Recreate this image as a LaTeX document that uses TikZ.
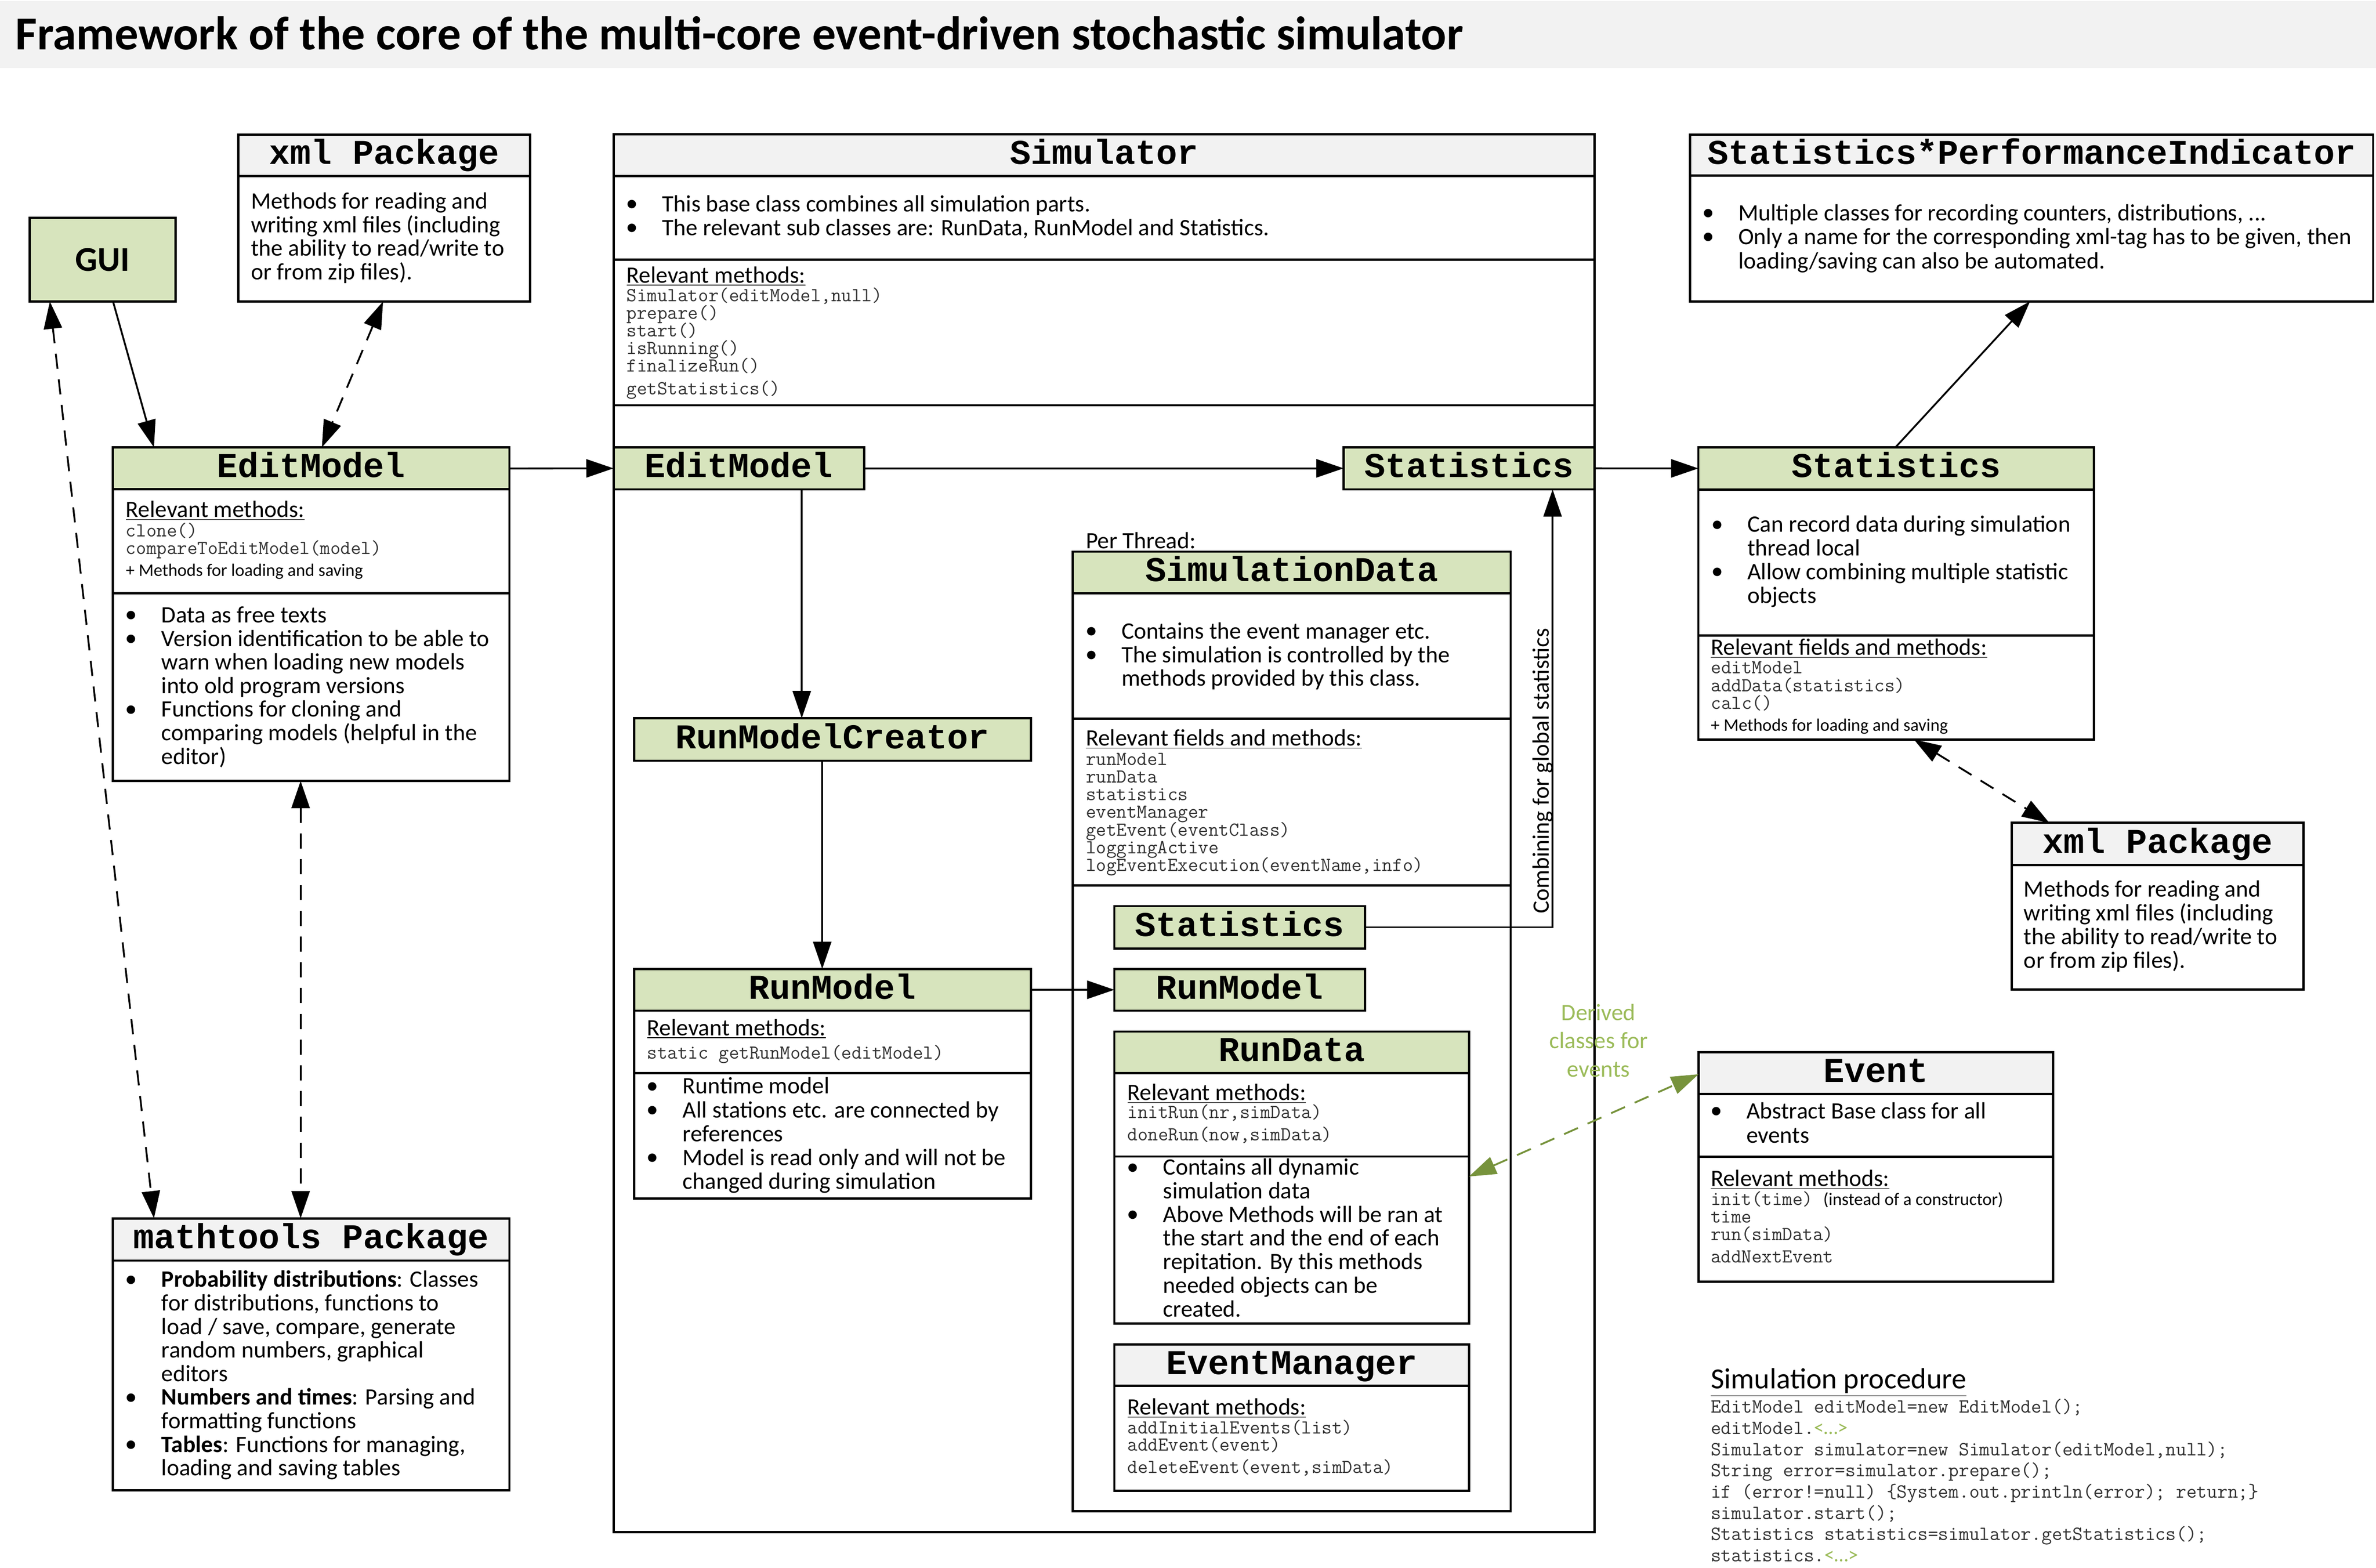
\documentclass[tikz,border=0pt]{standalone}
\usepackage{fontspec}
\setmainfont{Carlito}
\newfontfamily\mono{Liberation Mono}
\usetikzlibrary{arrows.meta,calc}
\definecolor{hgreen}{HTML}{D7E4BD}
\definecolor{hgray}{HTML}{F2F2F2}
\definecolor{tgreen}{HTML}{9BBB59}
\definecolor{agreen}{HTML}{77933C}
\definecolor{codec}{HTML}{333333}
\newcommand\bul{\raisebox{1.2pt}{$\bullet$}}
\newcommand\bi{\hbox to 23.5pt{\bul\hfil}}
\newcommand\ci{\hskip 23.5pt\relax}
\newcommand\ml[2]{\vtop{\baselineskip=#1pt\lineskiplimit=-\maxdimen\lineskip=0pt\halign{##\hfil\cr#2\crcr}}}
\newcommand\mlc[2]{\vtop{\baselineskip=#1pt\lineskiplimit=-\maxdimen\lineskip=0pt\halign{\hfil##\hfil\cr#2\crcr}}}
\newcommand\ulab[1]{\underline{#1}}
\newcommand\grn{\rmfamily\color{tgreen}}
\newcommand\ubox[7]{%
  \pgfmathsetmacro\ubW{#4-#2}\pgfmathsetmacro\ubH{#5-#3}\pgfmathsetmacro\ubHH{#6-#3}%
  \node[boxst, fill=#7, minimum width=\ubW pt, minimum height=\ubHH pt] (#1h) at (#2,#3) {};%
  \node[boxst, minimum width=\ubW pt, minimum height=\ubH pt] (#1) at (#2,#3) {};}
\tikzset{
  boxst/.style={draw, line width=1.5pt, inner sep=0pt, outer sep=0pt, anchor=north west},
  divl/.style={line width=1.5pt},
  htxt/.style={anchor=base, inner sep=0pt, font=\mono\bfseries\fontsize{23}{23}\selectfont},
  btxt/.style={anchor=base west, inner sep=0pt, font=\fontsize{15.5}{15.6}\selectfont},
  ctxt/.style={anchor=base west, inner sep=0pt, font=\ttfamily\fontsize{13.1}{11.6}\selectfont, text=codec},
  stxt/.style={anchor=base west, inner sep=0pt, font=\fontsize{11.6}{11.6}\selectfont},
  conn/.style={line width=1.2pt, -{Triangle[length=18pt,width=12pt]}},
  dconn/.style={line width=1.2pt, dash pattern=on 10pt off 7pt, {Triangle[length=18pt,width=12pt]}-{Triangle[length=18pt,width=12pt]}},
  gconn/.style={line width=1.2pt, draw=agreen, dash pattern=on 10pt off 7pt, {Triangle[length=18pt,width=12pt,fill=agreen]}-{Triangle[length=18pt,width=12pt,fill=agreen]}},
}
\begin{document}
\begin{tikzpicture}[x=1pt,y=-1pt]
\useasboundingbox (0,0) rectangle (1568,1034.8);
\fill[white] (0,0) rectangle (1568,1034.8);
\fill[hgray] (0,0.6) rectangle (1568,45);
\node[anchor=base west, inner sep=0pt, font=\bfseries\fontsize{31.2}{32}\selectfont] (title) at (10,32.7) {Framework of the core of the multi-core event-driven stochastic simulator};

% boxes
\ubox{gui}{19.5}{143.9}{115.8}{199.0}{199.0}{hgreen}
\ubox{xmlL}{157.2}{88.8}{349.9}{199.0}{116.1}{hgray}
\ubox{emL}{74.6}{295.3}{336.2}{515.4}{322.8}{hgreen}
\ubox{math}{74.6}{804.1}{336.2}{983.7}{832.0}{hgray}
\ubox{sim}{404.9}{88.6}{1052.2}{1011.1}{116.25}{hgray}
\ubox{emI}{404.9}{295.2}{570.2}{323.0}{323.0}{hgreen}
\ubox{stI}{886.7}{295.2}{1052.2}{323.0}{323.0}{hgreen}
\ubox{rmc}{418.4}{474.0}{680.4}{502.1}{502.1}{hgreen}
\ubox{sd}{707.9}{364.1}{996.9}{997.4}{391.5}{hgreen}
\ubox{stL}{735.4}{598.0}{900.8}{626.0}{626.0}{hgreen}
\ubox{rmI}{735.4}{639.5}{900.8}{667.0}{667.0}{hgreen}
\ubox{rmL}{418.4}{639.5}{680.4}{791.1}{667.0}{hgreen}
\ubox{rd}{735.4}{680.8}{969.4}{873.6}{708.3}{hgreen}
\ubox{evm}{735.4}{887.4}{969.4}{983.9}{914.6}{hgray}
\ubox{spi}{1115.4}{88.8}{1566.1}{198.9}{115.9}{hgray}
\ubox{stR}{1120.8}{295.2}{1381.8}{488.0}{323.1}{hgreen}
\ubox{xmlR}{1327.5}{543.1}{1520.1}{653.1}{570.8}{hgray}
\ubox{ev}{1120.9}{694.4}{1354.9}{846.0}{722.1}{hgray}

% dividers
\draw[divl] (74.6,391.6) -- (336.2,391.6);
\draw[divl] (404.9,171.3) -- (1052.2,171.3);
\draw[divl] (404.9,267.5) -- (1052.2,267.5);
\draw[divl] (707.9,474.4) -- (996.9,474.4);
\draw[divl] (707.9,584.3) -- (996.9,584.3);
\draw[divl] (418.4,708.3) -- (680.4,708.3);
\draw[divl] (735.4,763.3) -- (969.4,763.3);
\draw[divl] (1120.8,419.4) -- (1381.8,419.4);
\draw[divl] (1120.9,763.4) -- (1354.9,763.4);

% header texts
\node[anchor=base, inner sep=0pt, font=\bfseries\fontsize{23}{23}\selectfont] (guit) at (67.65,178.9) {GUI};
\node[htxt] (xmlLt) at (253.55,108.45) {xml Package};
\node[htxt] (emLt) at (205.4,315.05) {EditModel};
\node[htxt] (matht) at (205.4,824.05) {mathtools Package};
\node[htxt] (simt) at (728.55,108.4) {Simulator};
\node[htxt] (emIt) at (487.55,315.1) {EditModel};
\node[htxt] (stIt) at (969.45,315.1) {Statistics};
\node[htxt] (rmct) at (549.4,494.05) {RunModelCreator};
\node[htxt] (sdt) at (852.4,383.8) {SimulationData};
\node[htxt] (stLt) at (818.1,618) {Statistics};
\node[htxt] (rmIt) at (818.1,659.25) {RunModel};
\node[htxt] (rmLt) at (549.4,659.25) {RunModel};
\node[htxt] (rdt) at (852.4,700.55) {RunData};
\node[htxt] (evmt) at (852.4,907) {EventManager};
\node[htxt] (spit) at (1340.75,108.35) {Statistics*PerformanceIndicator};
\node[htxt] (stRt) at (1251.3,315.15) {Statistics};
\node[htxt] (xmlRt) at (1423.8,562.95) {xml Package};
\node[htxt] (evt) at (1237.9,714.25) {Event};

% xml left
\node[btxt] (xmlLb) at (165.4,137.8) {\ml{15.6}{Methods for reading and\cr writing xml files (including\cr the ability to read/write to\cr or from zip files).\cr}};
% EditModel left
\node[btxt] (emLr) at (82.9,341.4) {\ulab{Relevant methods:}};
\node[ctxt] (emLc) at (82.9,354.3) {\ml{11.6}{clone()\cr compareToEditModel(model)\cr}};
\node[stxt] (emLs) at (82.9,380.3) {+ Methods for loading and saving};
\node[btxt] (emLb) at (82.9,411.0) {\ml{15.55}{\bi Data as free texts\cr \bi Version identification to be able to\cr \ci warn when loading new models\cr \ci into old program versions\cr \bi Functions for cloning and\cr \ci comparing models (helpful in the\cr \ci editor)\cr}};
% mathtools
\node[btxt] (mathb) at (82.9,849.5) {\ml{15.56}{\bi\textbf{Probability distributions}: Classes\cr \ci for distributions, functions to\cr \ci load / save, compare, generate\cr \ci random numbers, graphical\cr \ci editors\cr \bi\textbf{Numbers and times}: Parsing and\cr \ci formatting functions\cr \bi\textbf{Tables}: Functions for managing,\cr \ci loading and saving tables\cr}};
% Simulator
\node[btxt] (simb) at (413.4,139.7) {\ml{15.6}{\bi This base class combines all simulation parts.\cr \bi The relevant sub classes are: RunData, RunModel and Statistics.\cr}};
\node[btxt] (simr) at (413.4,186.6) {\ulab{Relevant methods:}};
\node[ctxt] (simc) at (413.4,199.1) {\ml{11.6}{Simulator(editModel,null)\cr prepare()\cr start()\cr isRunning()\cr finalizeRun()\cr\noalign{\vskip3.3pt} getStatistics()\cr}};
% SimulationData
\node[btxt] (pt) at (716.4,362.2) {Per Thread:};
\node[btxt] (sdb) at (716.4,421.6) {\ml{15.6}{\bi Contains the event manager etc.\cr \bi The simulation is controlled by the\cr \ci methods provided by this class.\cr}};
\node[btxt] (sdr) at (716.4,492.3) {\ulab{Relevant fields and methods:}};
\node[ctxt] (sdc) at (716.4,505.1) {\ml{11.63}{runModel\cr runData\cr statistics\cr eventManager\cr getEvent(eventClass)\cr loggingActive\cr logEventExecution(eventName,info)\cr}};
\node[btxt, rotate=90] (comb) at (1022.3,603.1) {Combining for global statistics};
% RunModel left
\node[btxt] (rmLr) at (426.9,683.4) {\ulab{Relevant methods:}};
\node[ctxt] (rmLc) at (426.9,698.7) {static getRunModel(editModel)};
\node[btxt] (rmLb) at (426.9,721.9) {\ml{15.7}{\bi Runtime model\cr \bi All stations etc. are connected by\cr \ci references\cr \bi Model is read only and will not be\cr \ci changed during simulation\cr}};
% RunData
\node[btxt] (rdr) at (743.9,726.1) {\ulab{Relevant methods:}};
\node[ctxt] (rdc) at (743.9,737.9) {\ml{14.9}{initRun(nr,simData)\cr doneRun(now,simData)\cr}};
\node[btxt] (rdb) at (743.9,775.5) {\ml{15.58}{\bi Contains all dynamic\cr \ci simulation data\cr \bi Above Methods will be ran at\cr \ci the start and the end of each\cr \ci repitation. By this methods\cr \ci needed objects can be\cr \ci created.\cr}};
% EventManager
\node[btxt] (evmr) at (743.9,933.8) {\ulab{Relevant methods:}};
\node[ctxt] (evmc) at (743.9,946.2) {\ml{11.5}{addInitialEvents(list)\cr addEvent(event)\cr\noalign{\vskip3.1pt} deleteEvent(event,simData)\cr}};
% Statistics*PerformanceIndicator
\node[btxt] (spib) at (1123.5,145.6) {\ml{15.8}{\bi Multiple classes for recording counters, distributions, ...\cr \bi Only a name for the corresponding xml-tag has to be given, then\cr \ci loading/saving can also be automated.\cr}};
% Statistics right
\node[btxt] (stRb) at (1129.5,351.2) {\ml{15.6}{\bi Can record data during simulation\cr \ci thread local\cr \bi Allow combining multiple statistic\cr \ci objects\cr}};
\node[btxt] (stRr) at (1128.9,432.3) {\ulab{Relevant fields and methods:}};
\node[ctxt] (stRc) at (1128.9,444.6) {\ml{11.7}{editModel\cr addData(statistics)\cr calc()\cr}};
\node[stxt] (stRs) at (1128.9,482.6) {+ Methods for loading and saving};
% xml right
\node[btxt] (xmlRb) at (1335.4,592.0) {\ml{15.6}{Methods for reading and\cr writing xml files (including\cr the ability to read/write to\cr or from zip files).\cr}};
% Event
\node[btxt] (evb) at (1128.8,738.4) {\ml{15.9}{\bi Abstract Base class for all\cr \ci events\cr}};
\node[btxt] (evr) at (1128.8,782.9) {\ulab{Relevant methods:}};
\node[ctxt] (evc) at (1128.8,795.3) {\ml{11.75}{init(time) {\rmfamily\color{black}\fontsize{11.6}{11.6}\selectfont(instead of a constructor)}\cr time\cr run(simData)\cr\noalign{\vskip2.85pt} addNextEvent\cr}};
% derived label
\node[anchor=base, inner sep=0pt, font=\fontsize{15.5}{18.7}\selectfont, text=tgreen] (derv) at (1054.9,673.3) {\mlc{18.7}{Derived\cr classes for\cr events\cr}};
% simulation procedure
\node[anchor=base west, inner sep=0pt, font=\fontsize{19.3}{20}\selectfont] (spr) at (1128.8,916.6) {\ulab{Simulation procedure}};
\node[ctxt, font=\ttfamily\fontsize{13.25}{14}\selectfont] (spc) at (1128.8,932.6) {\ml{14}{EditModel editModel=new EditModel();\cr editModel.{\grn<…>}\cr Simulator simulator=new Simulator(editModel,null);\cr String error=simulator.prepare();\cr if (error!=null) \{System.out.println(error); return;\}\cr simulator.start();\cr Statistics statistics=simulator.getStatistics();\cr statistics.{\grn<…>}\cr}};

% connectors
\draw[conn] ($(gui.south west)+(55.1,0)$) -- ($(emL.north west)+(27,0)$);
\draw[dconn] ($(xmlL.south west)+(95.6,0)$) -- ($(emL.north west)+(137.8,0)$);
\draw[dconn] ($(gui.south west)+(13.4,0)$) -- ($(math.north west)+(27,0)$);
\draw[dconn] ($(emL.south west)+(123.8,0)$) -- ($(math.north west)+(123.8,0)$);
\draw[conn] ($(emL.north east)+(0,13.9)$) -- (emI.west);
\draw[conn] (emI.east) -- (stI.west);
\draw[conn] ($(emI.south west)+(124.2,0)$) -- ($(rmc.north west)+(110.7,0)$);
\draw[conn] ($(rmc.south west)+(124.2,0)$) -- ($(rmL.north west)+(124.2,0)$);
\draw[conn] (rmLh.east) -- (rmI.west);
\draw[conn] (stL.east) -| ($(stI.south west)+(137.9,0)$);
\draw[conn] (stI.east) -- (stRh.west);
\draw[conn] ($(stR.north west)+(130.1,0)$) -- ($(spi.south west)+(224.3,0)$);
\draw[dconn] ($(stR.south west)+(142.2,0)$) -- ($(xmlR.north west)+(24.9,0)$);
\draw[gconn] ($(rd.north east)+(0,95.7)$) -- ($(ev.north west)+(0,14.6)$);
\end{tikzpicture}
\end{document}
